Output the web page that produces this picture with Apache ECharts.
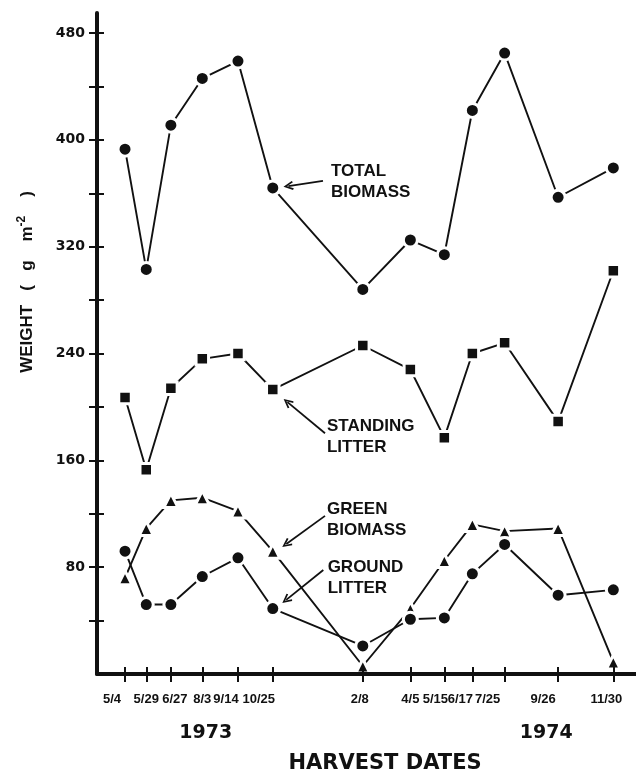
<!DOCTYPE html>
<html><head><meta charset="utf-8">
<script src="https://cdn.jsdelivr.net/npm/echarts@6/dist/echarts.min.js"></script>
<style>html,body{margin:0;padding:0;background:#fff}#c{width:636px;height:776px}</style>
</head><body><div id="c"></div>
<script>
const harvestDates = ['1973-05-04','1973-05-29','1973-06-27','1973-08-03','1973-09-14','1973-10-25',
  '1974-02-08','1974-04-05','1974-05-15','1974-06-17','1974-07-25','1974-09-26','1974-11-30'];
const dateLabels = ['5/4','5/29','6/27','8/3','9/14','10/25','2/8','4/5','5/15','6/17','7/25','9/26','11/30'];
const totalBiomass   = [393, 303, 411, 446, 459, 364, 288, 325, 314, 422, 465, 357, 379];
const standingLitter = [207, 153, 214, 236, 240, 213, 246, 228, 177, 240, 248, 189, 302];
const greenBiomass   = [72, 109, 130, 132, 122, 92, 6, 49, 85, 112, 107, 109, 9];
const groundLitter   = [92, 52, 52, 73, 87, 49, 21, 41, 42, 75, 97, 59, 63];
const yTickValues  = [40, 80, 120, 160, 200, 240, 280, 320, 360, 400, 440, 480];
const yLabelValues = [80, 160, 240, 320, 400, 480];
const yearLabels = ['1973', '1974'];
const yearCenters = ['1973-08-07', '1974-09-12'];

// horizontal nudge (px) of each date label relative to its tick, as hand-lettered in the original
const labelShift = [-13, 0, 4, 0, -12, -14, -3, 0, -9, -12, -17, -15, -7];

const day = s => { const [y, m, d] = s.split('-').map(Number); return (Date.UTC(y, m - 1, d) - Date.UTC(1973, 0, 1)) / 864e5; };
const xDays = harvestDates.map(day);
const yearDays = yearCenters.map(day);
const X_MIN = day('1973-04-01'), X_MAX = 724.7, Y_MAX = 495;

// annotation positions in data units (day number, g m-2)
const annotations = [
  { text: 'TOTAL\nBIOMASS',   at: [365.6, 368.6], from: [356.1, 369.3], to: [315.4, 365.4] },
  { text: 'STANDING\nLITTER', at: [360.8, 177.8], from: [358.5, 180.3], to: [314.3, 203.6] },
  { text: 'GREEN\nBIOMASS',   at: [360.8, 115.6], from: [358.5, 118.4], to: [312.9, 97.3] },
  { text: 'GROUND\nLITTER',   at: [361.6, 72.3],  from: [356.5, 77.9],  to: [312.8, 55.5] }
];

const BLACK = '#111';
const chevron = 'path://M5,0 L10,9 L8.4,10 L5,3.6 L1.6,10 L0,9 Z';

function mk(name, vals, symbol, size) {
  return {
    name, type: 'line', xAxisIndex: 0, yAxisIndex: 0,
    data: vals.map((v, i) => [xDays[i], v]),
    symbol, symbolSize: size, showSymbol: true,
    lineStyle: { color: BLACK, width: 1.9 },
    itemStyle: { color: BLACK, borderColor: '#fff', borderWidth: 3 },
    emphasis: { disabled: true }, silent: true, z: 2
  };
}

const series = [
  mk('TOTAL BIOMASS', totalBiomass, 'circle', 14),
  mk('STANDING LITTER', standingLitter, 'rect', 12.5),
  mk('GREEN BIOMASS', greenBiomass, 'triangle', 14),
  mk('GROUND LITTER', groundLitter, 'circle', 14)
];
series[0].markLine = {
  silent: true, animation: false,
  symbol: ['none', chevron], symbolSize: [9, 10],
  lineStyle: { color: BLACK, width: 1.8, type: 'solid' },
  label: { show: false },
  data: annotations.map(a => [{ coord: a.from }, { coord: a.to }])
};
series[0].markPoint = {
  silent: true, animation: false,
  symbol: 'circle', symbolSize: 0,
  label: {
    show: true, position: 'right', distance: 0, formatter: '{b}',
    color: BLACK, fontFamily: 'Liberation Sans', fontWeight: 'bold', fontSize: 17,
    lineHeight: 21, align: 'left'
  },
  data: annotations.map(a => ({ coord: a.at, name: a.text }))
};

const xFont = { color: BLACK, fontFamily: 'Liberation Sans', fontWeight: 'bold', fontSize: 13 };
const xRich = {};
labelShift.forEach((s, i) => {
  xRich['k' + i] = Object.assign({ padding: s < 0 ? [0, -2 * s, 0, 0] : [0, 0, 0, 2 * s] }, xFont);
});

const chart = echarts.init(document.getElementById('c'), null, { renderer: 'canvas' });
chart.setOption({
  animation: false,
  backgroundColor: '#fff',
  grid: { left: 97, right: 0, top: 13, bottom: 102, containLabel: false },
  xAxis: [
    { type: 'value', min: X_MIN, max: X_MAX, position: 'bottom', z: 10,
      axisLine: { show: true, lineStyle: { color: BLACK, width: 4 } },
      axisTick: { show: true, inside: false, length: 8, lineStyle: { color: BLACK, width: 2 }, customValues: xDays },
      axisLabel: Object.assign({ show: true, margin: 19, hideOverlap: false, customValues: xDays, rich: xRich,
        formatter: v => { const i = xDays.indexOf(v); return i < 0 ? '' : '{k' + i + '|' + dateLabels[i] + '}'; } }, xFont),
      splitLine: { show: false } },
    { type: 'value', min: X_MIN, max: X_MAX, position: 'bottom', z: 10,
      axisLine: { show: false },
      axisTick: { show: true, inside: true, length: 7, lineStyle: { color: BLACK, width: 2 }, customValues: xDays },
      axisLabel: { show: false }, splitLine: { show: false } },
    { type: 'value', min: X_MIN, max: X_MAX, position: 'bottom', z: 10,
      axisLine: { show: false }, axisTick: { show: false },
      axisLabel: { show: true, margin: 50, hideOverlap: false, customValues: yearDays,
        formatter: v => yearLabels[yearDays.indexOf(v)] || '',
        color: BLACK, fontFamily: 'DejaVu Sans', fontWeight: 'bold', fontSize: 19 },
      splitLine: { show: false } }
  ],
  yAxis: [
    { type: 'value', min: 0, max: Y_MAX, position: 'left', z: 10,
      axisLine: { show: true, lineStyle: { color: BLACK, width: 4 } },
      axisTick: { show: true, inside: false, length: 8, lineStyle: { color: BLACK, width: 2 }, customValues: yTickValues },
      axisLabel: { show: true, margin: 12, hideOverlap: false, customValues: yLabelValues,
        color: BLACK, fontFamily: 'DejaVu Sans', fontWeight: 'bold', fontSize: 14 },
      splitLine: { show: false } },
    { type: 'value', min: 0, max: Y_MAX, position: 'left', z: 10,
      axisLine: { show: false },
      axisTick: { show: true, inside: true, length: 7, lineStyle: { color: BLACK, width: 2 }, customValues: yTickValues },
      axisLabel: { show: false }, splitLine: { show: false } }
  ],
  graphic: [
    { type: 'text', x: 27, y: 282, rotation: Math.PI / 2, silent: true,
      style: {
        text: '{a|WEIGHT   (   g    m}{s|-2}{a|    )}', align: 'center', verticalAlign: 'middle',
        rich: {
          a: { fill: BLACK, fontFamily: 'Liberation Sans', fontWeight: 'bold', fontSize: 17 },
          s: { fill: BLACK, fontFamily: 'Liberation Sans', fontWeight: 'bold', fontSize: 12, padding: [0, 0, 10, 0] }
        }
      } },
    { type: 'text', x: 385, y: 764, silent: true,
      style: { text: 'HARVEST DATES', align: 'center', verticalAlign: 'middle',
        fill: BLACK, fontFamily: 'DejaVu Sans', fontWeight: 'bold', fontSize: 21 } }
  ],
  series
});
</script></body></html>
